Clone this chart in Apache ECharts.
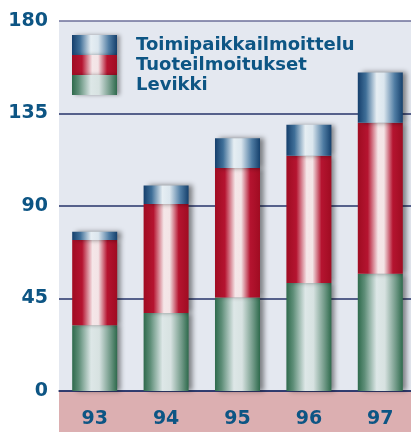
<!DOCTYPE html>
<html>
<head>
<meta charset="utf-8">
<script src="https://cdn.jsdelivr.net/npm/echarts@6/dist/echarts.min.js"></script>
<style>
  html, body { margin: 0; padding: 0; background: #fff; }
  #chart { width: 411px; height: 432px; }
</style>
</head>
<body>
<div id="chart"></div>
<script>
const years = ['93', '94', '95', '96', '97']
const levikki = [32, 38, 45.5, 52.5, 57]
const tuoteilmoitukset = [41.5, 53, 63, 62, 73.5]
const toimipaikka = [4, 9, 14.5, 15, 24.5]
const yTicks = [0, 45, 90, 135, 180]

const textBlue = '#0d5584'
const font = 'DejaVu Sans'

// horizontal "cylinder" shading
function cyl(stops) {
  return new echarts.graphic.LinearGradient(0, 0, 1, 0,
    stops.map(function (s) { return { offset: s[0], color: s[1] } }))
}
const redGrad = cyl([[0, '#a00c22'], [0.22, '#b51430'], [0.45, '#f5e6e8'], [0.58, '#f3e4e6'], [0.78, '#b51430'], [1, '#a00c22']])
const greenGrad = cyl([[0, '#2e6a4c'], [0.15, '#5e8e78'], [0.42, '#dde7e7'], [0.6, '#d7e2e1'], [0.85, '#6f9886'], [1, '#2e6a4c']])
const blueGrad = cyl([[0, '#153f6c'], [0.18, '#3f6f98'], [0.42, '#e6eef3'], [0.58, '#dbe6ee'], [0.82, '#4f7ca3'], [1, '#15406c']])

function barStyle(c) {
  return {
    color: c,
    shadowBlur: 5,
    shadowOffsetX: 4,
    shadowColor: 'rgba(0,0,0,0.45)',
  }
}

const chart = echarts.init(document.getElementById('chart'))
chart.setOption({
  animation: false,
  backgroundColor: '#ffffff',
  grid: {
    left: 59, top: 21, width: 357, height: 370,
    outerBoundsMode: 'none', containLabel: false,
    show: true, backgroundColor: '#e4e8f0', borderWidth: 0,
  },
  graphic: [{
    type: 'rect', z: -1,
    shape: { x: 59, y: 391, width: 352, height: 41 },
    style: { fill: '#dcafb1' },
  }],
  legend: {
    orient: 'vertical',
    left: 72, top: 35, padding: 0,
    itemWidth: 45, itemHeight: 20, itemGap: 0,
    icon: 'rect',
    itemStyle: { shadowBlur: 4, shadowOffsetX: 3, shadowColor: 'rgba(0,0,0,0.35)' },
    data: ['Toimipaikkailmoittelu', 'Tuoteilmoitukset', 'Levikki'],
    textStyle: {
      color: textBlue, fontFamily: font, fontWeight: 'bold', fontSize: 18,
      padding: [0, 0, 0, 14],
    },
  },
  xAxis: {
    type: 'category',
    data: years,
    axisTick: { show: false },
    axisLine: { lineStyle: { color: '#26336a', width: 1.5 } },
    axisLabel: {
      color: textBlue, fontFamily: font, fontWeight: 'bold', fontSize: 19, margin: 19,
    },
  },
  yAxis: {
    type: 'value',
    min: yTicks[0], max: yTicks[yTicks.length - 1], interval: 45,
    axisLine: { show: false },
    axisTick: { show: false },
    axisLabel: {
      color: textBlue, fontFamily: font, fontWeight: 'bold', fontSize: 19, margin: 11,
    },
    splitLine: {
      lineStyle: { color: ['#26336a', '#26336a', '#26336a', '#26336a', '#6d6f9a'], width: 1.5 },
    },
  },
  series: [
    { name: 'Levikki', type: 'bar', stack: 'a', barWidth: 45, data: levikki, itemStyle: barStyle(greenGrad) },
    { name: 'Tuoteilmoitukset', type: 'bar', stack: 'a', barWidth: 45, data: tuoteilmoitukset, itemStyle: barStyle(redGrad) },
    { name: 'Toimipaikkailmoittelu', type: 'bar', stack: 'a', barWidth: 45, data: toimipaikka, itemStyle: barStyle(blueGrad) },
  ],
})
</script>
</body>
</html>
